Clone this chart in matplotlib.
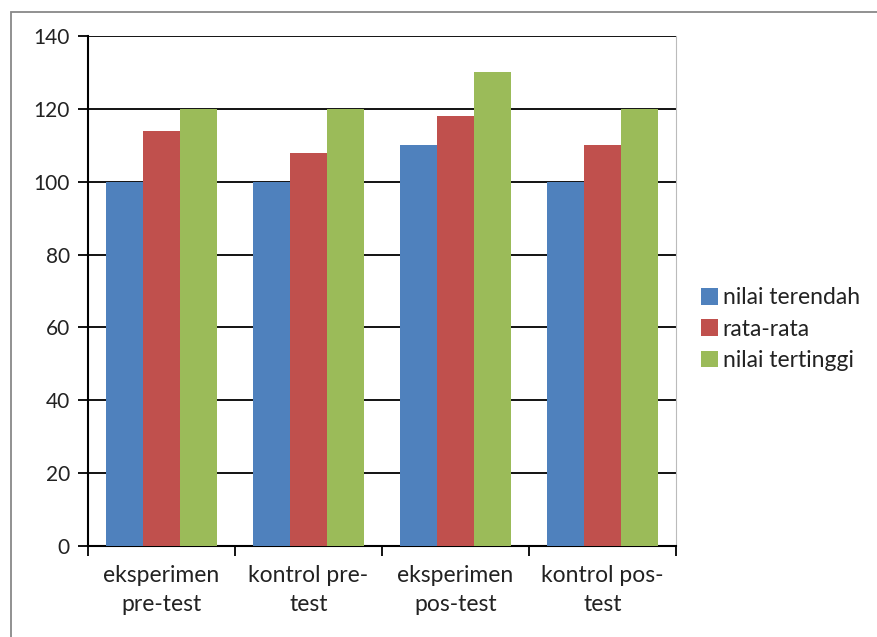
import matplotlib.pyplot as plt
import numpy as np
from matplotlib.patches import Rectangle

# data
kategori = ["eksperimen\npre-test", "kontrol pre-\ntest", "eksperimen\npos-test", "kontrol pos-\ntest"]
nilai_terendah = [100, 100, 110, 100]
rata_rata = [114, 108, 118, 110]
nilai_tertinggi = [120, 120, 130, 120]
seri = ["nilai terendah", "rata-rata", "nilai tertinggi"]
warna = ["#4F81BD", "#C0504D", "#9BBB59"]

plt.rcParams['font.family'] = ['Lato', 'DejaVu Sans']

fig = plt.figure(figsize=(8.77, 6.37), dpi=100)
ax = fig.add_axes([88 / 877, 1 - 546 / 637, (676 - 88) / 877, (546 - 36) / 637])

# bingkai luar
fig.patches.append(Rectangle((11 / 877, -0.1), 1.2, 1 - 12 / 637 + 0.1, transform=fig.transFigure,
                             fill=False, edgecolor="#888888", lw=1.3))

x = np.arange(len(kategori))
lebar = 0.25
for i, (vals, nama) in enumerate(zip([nilai_terendah, rata_rata, nilai_tertinggi], seri)):
    ax.bar(x + (i - 1) * lebar, vals, lebar, color=warna[i], label=nama, zorder=3)

ax.set_xlim(-0.5, len(kategori) - 0.5)
ax.set_ylim(0, 140)
ax.set_yticks(range(0, 141, 20))
ax.yaxis.grid(True, color="black", lw=1.3, zorder=1)
ax.tick_params(axis='y', length=7, width=1.3, labelsize=15, pad=6, colors="black", labelcolor="#222222")

ax.set_xticks(x)
ax.set_xticklabels(kategori, fontsize=16.5, linespacing=1.45, color="#222222")
ax.tick_params(axis='x', length=0, pad=14)
ax.set_xticks(np.arange(-0.5, len(kategori)), minor=True)
ax.tick_params(axis='x', which='minor', length=7, width=1.3)

for s in ["left", "bottom"]:
    ax.spines[s].set_color("black")
    ax.spines[s].set_linewidth(1.5)
ax.spines["top"].set_visible(False)
ax.spines["right"].set_color("#BBBBBB")

leg = ax.legend(loc="center left", bbox_to_anchor=(1.015, 0.425), frameon=False, fontsize=16.5,
                handlelength=0.75, handleheight=0.75, handletextpad=0.2, labelspacing=0.45,
                borderaxespad=0.3)
for t in leg.get_texts():
    t.set_color("#222222")

fig.savefig("out.png", dpi=100)
